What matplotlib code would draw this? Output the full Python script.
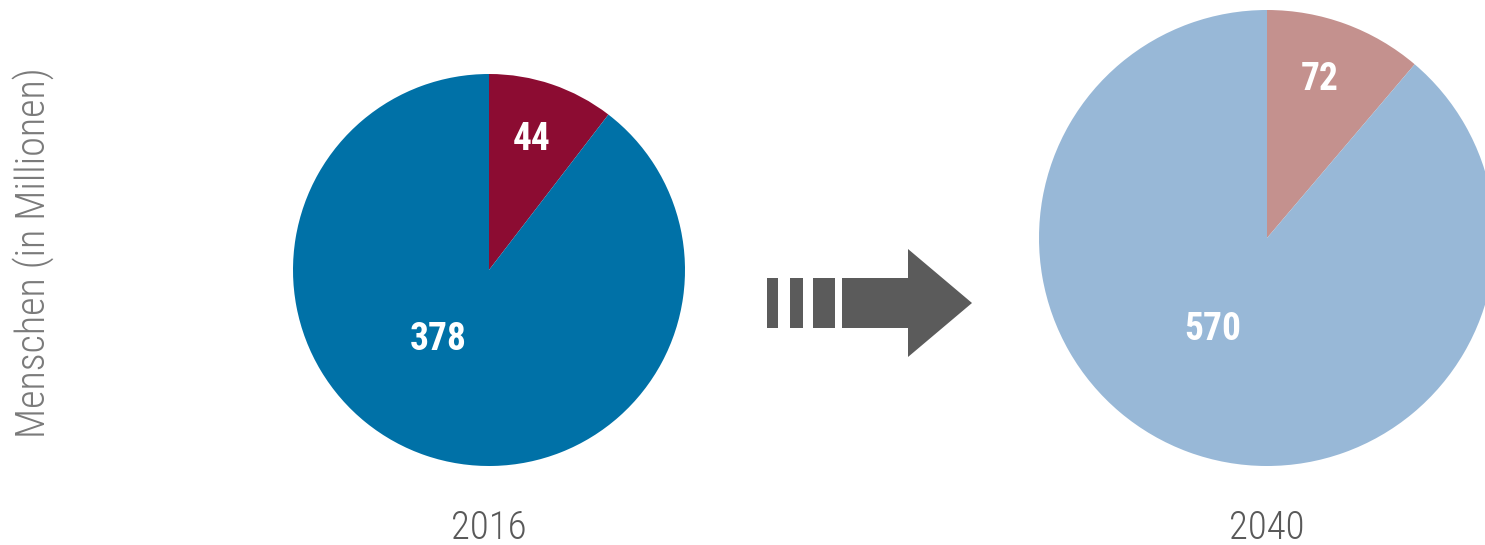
import matplotlib
matplotlib.use("Agg")
import matplotlib.pyplot as plt
from matplotlib.patches import Rectangle, Polygon

years = ["2016", "2040"]
values_2016 = [44, 378]
values_2040 = [72, 570]
colors_2016 = ["#8C0C32", "#0071A7"]
colors_2040 = ["#C4918E", "#98B8D7"]
ylabel = "Menschen (in Millionen)"

H = 545
fig = plt.figure(figsize=(14.85, 5.45), dpi=100)
ax = fig.add_axes([0, 0, 1, 1])
ax.set_xlim(0, 1485)
ax.set_ylim(0, H)
ax.set_aspect("equal")
ax.axis("off")

narrow = ["Roboto Condensed", "DejaVu Sans"]

pies = [
    (values_2016, colors_2016, (489, H - 270), 196, [(532, H - 140), (438, H - 340)], years[0]),
    (values_2040, colors_2040, (1267, H - 238), 228, [(1320, H - 80), (1213, H - 330)], years[1]),
]
for vals, cols, c, r, lpos, yr in pies:
    ax.pie(vals, colors=cols, startangle=90, counterclock=False, center=c, radius=r,
           wedgeprops=dict(linewidth=0))
    for v, (lx, ly) in zip(vals, lpos):
        ax.text(lx, ly, str(v), ha="center", va="center", color="white",
                fontsize=27, fontweight="bold", family=narrow)
    ax.text(c[0], H - 528, yr, ha="center", va="center", color="#595959",
            fontsize=28, fontweight="light", family=narrow)

ax.set_xlim(0, 1485)
ax.set_ylim(0, H)

ax.text(33, H - 253, ylabel, rotation=90, ha="center", va="center", color="#7a7a7a",
        fontsize=29, fontweight="light", family=narrow)

grey = "#5B5B5B"
for x0, x1 in [(767, 778), (790, 803), (813, 835), (842, 910)]:
    ax.add_patch(Rectangle((x0, H - 328), x1 - x0, 50, color=grey, lw=0))
ax.add_patch(Polygon([(908, H - 249), (972, H - 303), (908, H - 357)], closed=True,
                     color=grey, lw=0))

fig.savefig("out.png", dpi=100)
